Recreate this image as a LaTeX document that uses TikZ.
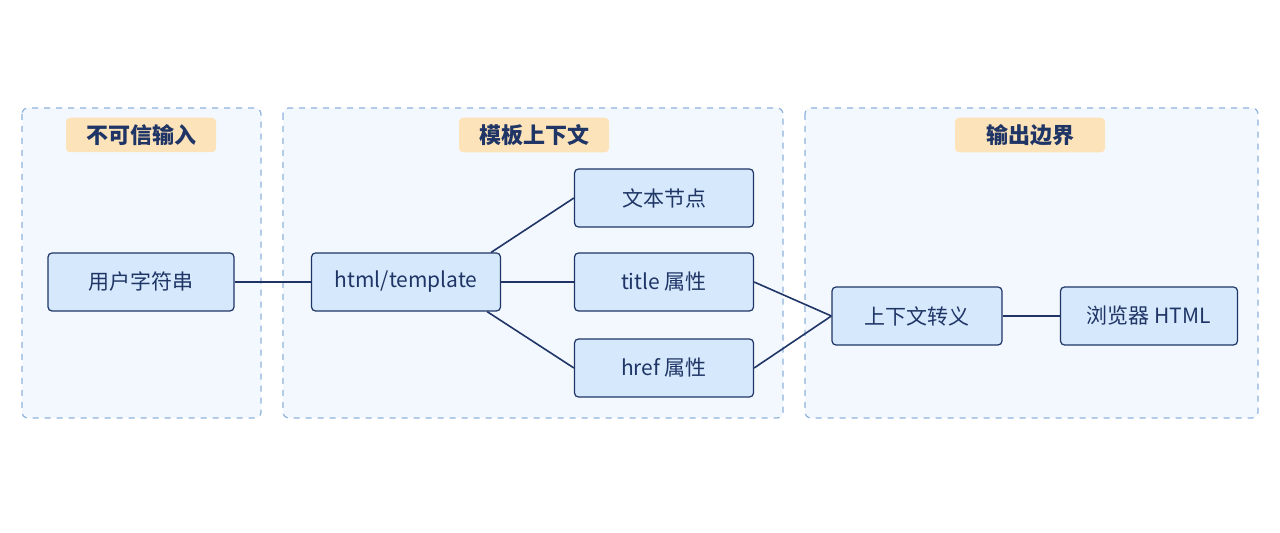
\documentclass[tikz,border=0pt]{standalone}
\usepackage{fontspec}
\setmainfont{Noto Sans CJK SC}
\usetikzlibrary{positioning}
\definecolor{nodefill}{HTML}{D6E8FB}
\definecolor{navy}{HTML}{1F3566}
\definecolor{groupfill}{HTML}{F3F8FE}
\definecolor{groupline}{HTML}{8DB2DC}
\definecolor{tagfill}{HTML}{FCE3B9}
\tikzset{
  group/.style={draw=groupline, fill=groupfill, dashed, line width=0.6pt, rounded corners=3pt},
  tag/.style={fill=tagfill, rounded corners=2pt, minimum width=75pt, minimum height=16pt, font=\fontsize{11}{13}\selectfont\bfseries, text=navy},
  box/.style={draw=navy, fill=nodefill, line width=0.6pt, rounded corners=2pt, minimum height=29pt, font=\fontsize{10.5}{12}\selectfont, text=navy},
  link/.style={draw=navy, line width=0.8pt}
}
\begin{document}
\begin{tikzpicture}[x=0.5pt, y=-0.5pt]
\useasboundingbox (0,0) rectangle (1280,533);
%% groups
\draw[group] (22,108) rectangle (261,418);
\draw[group] (283,108) rectangle (783,418);
\draw[group] (805,108) rectangle (1258,418);
\node[tag] (untrusted) at (141,135) {不可信输入};
\node[tag] (context) at (534,135) {模板上下文};
\node[tag] (boundary) at (1030,135) {输出边界};
%% nodes
\node[box, minimum width=93pt] (input) at (141,282) {用户字符串};
\node[box, minimum width=94.5pt] (tmpl) at (406,282) {html/template};
\node[box, minimum width=89.5pt] (text) at (664,198) {文本节点};
\node[box, minimum width=89.5pt] (title) at (664,282) {title 属性};
\node[box, minimum width=89.5pt] (href) at (664,368) {href 属性};
\node[box, minimum width=85pt] (escape) at (917,316) {上下文转义};
\node[box, minimum width=88.5pt] (browser) at (1149,316) {浏览器 HTML};
%% links
\draw[link] (input) -- (tmpl);
\draw[link] (tmpl.north east) ++(-5pt,0) -- (text.west);
\draw[link] (tmpl) -- (title);
\draw[link] (tmpl.south east) ++(-7pt,0) -- (href.west);
\draw[link] (title.east) -- (escape.west);
\draw[link] (href.east) -- (escape.west);
\draw[link] (escape) -- (browser);
\end{tikzpicture}
\end{document}
